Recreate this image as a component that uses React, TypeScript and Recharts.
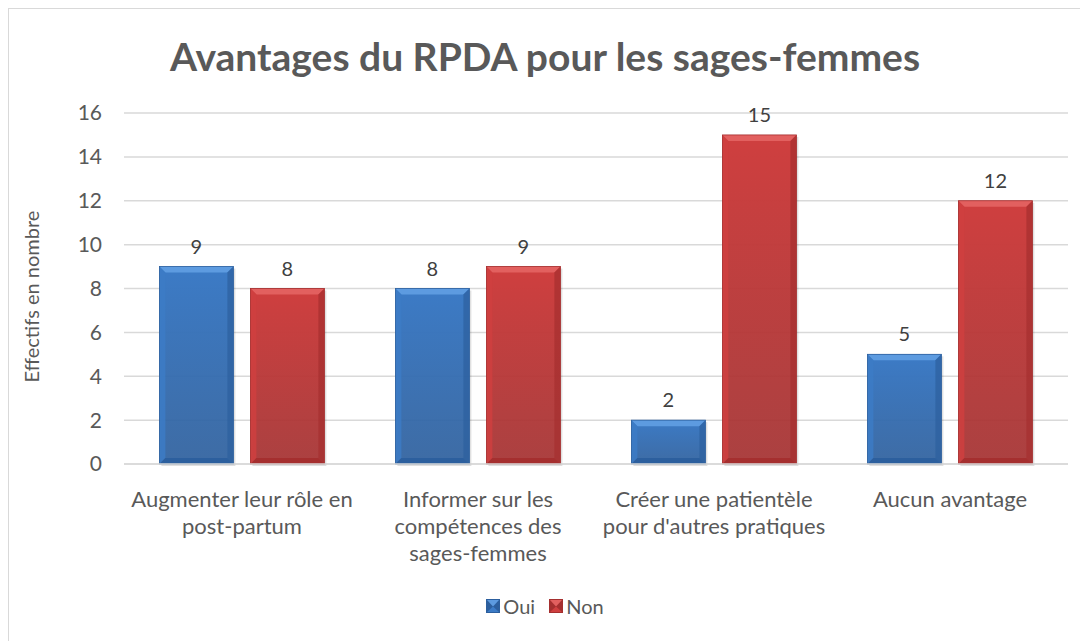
import React from "react";
import { Bar, BarChart, CartesianGrid, LabelList, XAxis, YAxis } from "recharts";

const categories = [
  "Augmenter leur rôle en\npost-partum",
  "Informer sur les\ncompétences des\nsages-femmes",
  "Créer une patientèle\npour d'autres pratiques",
  "Aucun avantage",
];
const oui = [9, 8, 2, 5];
const non = [8, 9, 15, 12];
const yTicks = [0, 2, 4, 6, 8, 10, 12, 14, 16];

const data = categories.map((name, i) => ({ name, oui: oui[i], non: non[i] }));

const FONT = "Lato, 'Liberation Sans', sans-serif";
const TEXT = "#595959";

const palette: Record<string, { main: string; light: string; dark: string }> = {
  oui: { main: "#3c7bc6", light: "#5d9be0", dark: "#2c5f9e" },
  non: { main: "#cf3f3f", light: "#e2605f", dark: "#a52f2f" },
};

function BevelBar(props: any) {
  const { x, y, width, height, dataKey } = props;
  if (!height || height <= 0) return null;
  const c = palette[dataKey] ?? palette.oui;
  const b = Math.min(6, height / 3);
  return (
    <g>
      <rect x={x + 2} y={y + 2} width={width} height={height} fill="rgba(0,0,0,0.12)" />
      <rect x={x} y={y} width={width} height={height} fill={`url(#grad-${dataKey})`} />
      <polygon points={`${x},${y} ${x + width},${y} ${x + width - b},${y + b} ${x + b},${y + b}`} fill={c.light} />
      <polygon points={`${x},${y} ${x + b},${y + b} ${x + b},${y + height - b} ${x},${y + height}`} fill={c.main} opacity={0.85} />
      <polygon points={`${x + width},${y} ${x + width - b},${y + b} ${x + width - b},${y + height - b} ${x + width},${y + height}`} fill={c.dark} opacity={0.7} />
      <polygon points={`${x},${y + height} ${x + b},${y + height - b} ${x + width - b},${y + height - b} ${x + width},${y + height}`} fill={c.dark} />
      <rect x={x} y={y} width={width} height={height} fill="none" stroke={c.dark} strokeWidth={0.8} />
    </g>
  );
}

function CategoryTick(props: any) {
  const { x, y, payload } = props;
  const lines = String(payload.value).split("\n");
  return (
    <text x={x} y={y} textAnchor="middle" fill={TEXT} fontSize={22} fontFamily={FONT}>
      {lines.map((line, i) => (
        <tspan key={i} x={x} dy={i === 0 ? 35 : 27}>
          {line}
        </tspan>
      ))}
    </text>
  );
}

function LegendSwatch({ k }: { k: string }) {
  const c = palette[k];
  return (
    <svg width={14} height={14} style={{ marginRight: 3 }}>
      <rect x={0} y={0} width={14} height={14} fill={c.dark} />
      <polygon points="1,1 13,1 7,7.5" fill={c.light} />
      <polygon points="1,13 13,13 7,7.5" fill={c.main} />
    </svg>
  );
}

export default function App() {
  return (
    <div
      style={{
        position: "relative",
        width: 1079,
        height: 640,
        marginLeft: -1,
        marginTop: -1,
        borderTop: "2px solid #d9d9d9",
        borderLeft: "2px solid #d9d9d9",
        background: "#fff",
        fontFamily: FONT,
        overflow: "hidden",
      }}
    >
      <div
        style={{
          position: "absolute",
          top: 24,
          left: 0,
          width: 1072,
          textAlign: "center",
          fontSize: 39,
          fontWeight: 700,
          color: TEXT,
        }}
      >
        Avantages du RPDA pour les sages-femmes
      </div>
      <BarChart
        width={1068}
        height={622}
        data={data}
        margin={{ top: 104, right: 9, left: 55, bottom: 77 }}
        barCategoryGap="15%"
        barGap={17}
      >
        <defs>
          {Object.keys(palette).map((k) => (
            <linearGradient key={k} id={`grad-${k}`} x1="0" y1="0" x2="0" y2="1">
              <stop offset="0%" stopColor={palette[k].main} />
              <stop offset="100%" stopColor={palette[k].dark} stopOpacity={0.9} />
            </linearGradient>
          ))}
        </defs>
        <CartesianGrid vertical={false} stroke="#d9d9d9" strokeWidth={1.5} />
        <XAxis
          dataKey="name"
          height={90}
          axisLine={{ stroke: "#d9d9d9", strokeWidth: 1.5 }}
          tickLine={false}
          tick={<CategoryTick />}
          interval={0}
        />
        <YAxis
          width={60}
          domain={[0, 16]}
          ticks={yTicks}
          axisLine={false}
          tickLine={false}
          tick={{ fill: TEXT, fontSize: 21, fontFamily: FONT, dx: -14 }}
          label={{
            value: "Effectifs en nombre",
            angle: -90,
            position: "insideLeft",
            offset: -32,
            dy: 8,
            style: { fill: TEXT, fontSize: 20, fontFamily: FONT, textAnchor: "middle" },
          }}
        />
        <Bar dataKey="oui" name="Oui" shape={<BevelBar />} isAnimationActive={false}>
          <LabelList dataKey="oui" position="top" offset={13} fill="#404040" fontSize={20} fontFamily={FONT} />
        </Bar>
        <Bar dataKey="non" name="Non" shape={<BevelBar />} isAnimationActive={false}>
          <LabelList dataKey="non" position="top" offset={13} fill="#404040" fontSize={20} fontFamily={FONT} />
        </Bar>
      </BarChart>
      <div
        style={{
          position: "absolute",
          top: 585,
          left: 0,
          width: 1072,
          display: "flex",
          justifyContent: "center",
          alignItems: "center",
          fontSize: 20,
          color: TEXT,
        }}
      >
        <span style={{ display: "flex", alignItems: "center", marginRight: 14 }}>
          <LegendSwatch k="oui" />
          Oui
        </span>
        <span style={{ display: "flex", alignItems: "center" }}>
          <LegendSwatch k="non" />
          Non
        </span>
      </div>
    </div>
  );
}
